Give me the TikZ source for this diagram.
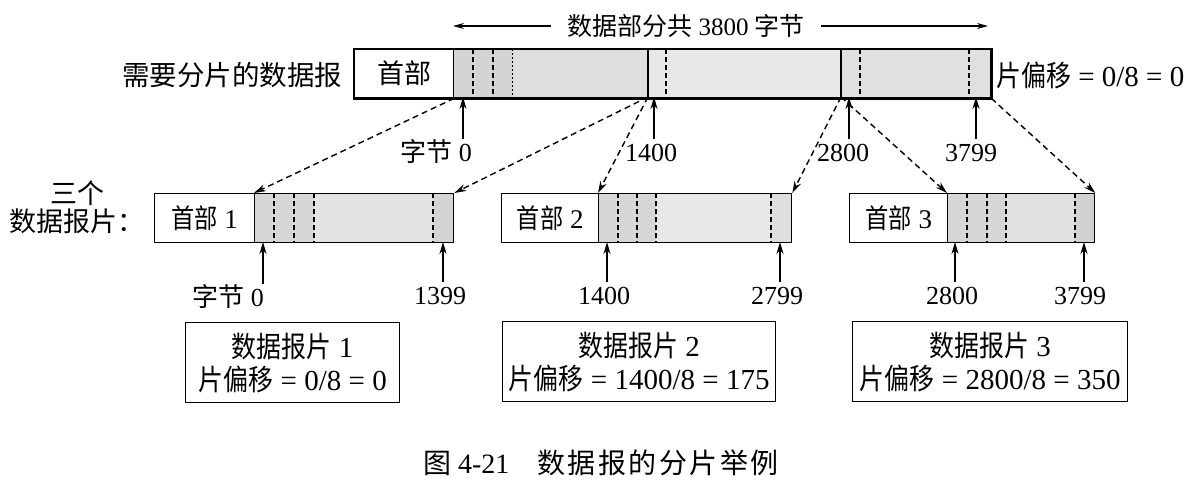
\documentclass[tikz,border=0pt]{standalone}
\usepackage{fontspec}
\setmainfont{Liberation Serif}
\newfontfamily\cjk{Noto Sans CJK SC}
\newfontfamily\cjkc{Noto Sans CJK SC}[FakeStretch=0.86]
\newfontfamily\cjks{Noto Sans CJK SC}[LetterSpace=9]
\usetikzlibrary{arrows.meta}
\begin{document}
\begin{tikzpicture}[x=1pt,y=-1pt,
  hb/.style={draw, line width=1.3pt, inner sep=0pt, anchor=north west},
  seg/.style={line width=1.1pt, dash pattern=on 5pt off 3pt},
  sseg/.style={line width=1.1pt},
  ptr/.style={-{Stealth[length=12pt,width=7pt]}, line width=1.6pt},
  tarrow/.style={-{Stealth[length=11pt,width=6pt]}, line width=1.2pt},
  mapar/.style={-{Stealth[length=12pt,width=7pt]}, line width=1.4pt, dash pattern=on 6pt off 4pt},
  lab/.style={inner sep=2pt, text height=20pt, text depth=6pt, font=\fontsize{26}{30}\selectfont},
  info/.style={draw, line width=1.4pt, align=center, anchor=north west, inner sep=0pt,
     minimum height=80pt, font=\fontsize{29}{33}\selectfont},
  hdr/.style={font=\fontsize{27}{30}\selectfont}
]
\useasboundingbox (0,0) rectangle (1190,480);
\fill[white] (0,0) rectangle (1190,480);

% ---------- top datagram ----------
\fill[black!17] (453,49) rectangle (512,97);
\fill[black!13] (512,49) rectangle (648,97);
\fill[black!9] (648,49) rectangle (841,97);
\fill[black!12] (841,49) rectangle (990,97);
\node[hb, minimum width=99pt, minimum height=48pt, hdr] (H) at (354,49) {\cjk 首部};
\node[hb, minimum width=537pt, minimum height=48pt] (D) at (453,49) {};
\draw[seg] (473,49) -- (473,97);
\draw[seg] (493,49) -- (493,97);
\draw[seg, line width=0.8pt, dash pattern=on 2pt off 2pt] (512,49) -- (512,97);
\draw[sseg] (648,49) -- (648,97);
\draw[seg] (666,49) -- (666,97);
\draw[sseg] (841,49) -- (841,97);
\draw[seg] (860,49) -- (860,97);
\draw[seg] (969,49) -- (969,97);
\draw[line width=2.6pt] (H.north west) rectangle (D.south east);

% title
\node[inner sep=0pt, font=\fontsize{25}{28}\selectfont] (title) at (686,26) {{\cjk 数据部分共} 3800 {\cjk 字节}};
\coordinate (tL) at (453,26);
\coordinate (tR) at (988,26);
\draw[tarrow] ([xshift=-16pt]title.west) -- (tL);
\draw[tarrow] ([xshift=16pt]title.east) -- (tR);

\node[font=\fontsize{27.5}{30}\selectfont] (need) at (232,75) {\cjk 需要分片的数据报};
\node[anchor=west, inner sep=0pt, font=\fontsize{29}{33}\selectfont] (off0) at (996,75) {{\cjkc 片偏移} = 0/8 = 0};

% top markers
\coordinate (p0) at (463,97);
\coordinate (p1400) at (654,97);
\coordinate (p2800) at (849,97);
\coordinate (p3799) at (976,97);
\coordinate (s1400) at (648,97);
\coordinate (s2800) at (841,97);
\node[lab] (b0) at (436,154) {{\cjk 字节} 0};
\node[lab] (b1400) at (651,154) {1400};
\node[lab] (b2800) at (843,154) {2800};
\node[lab] (b3799) at (971,154) {3799};
\draw[ptr] (p0 |- b0.north) -- (p0);
\draw[ptr] (p1400 |- b1400.north) -- (p1400);
\draw[ptr] (p2800 |- b2800.north) -- (p2800);
\draw[ptr] (p3799 |- b3799.north) -- (p3799);

% ---------- fragment 1 ----------
\fill[black!16] (254,193) rectangle (314,242);
\fill[black!11] (314,193) rectangle (433,242);
\fill[black!17] (433,193) rectangle (453,242);
\node[hb, minimum width=100pt, minimum height=49pt, hdr] (H1) at (154,193) {{\cjkc 首部} 1};
\node[hb, minimum width=199pt, minimum height=49pt] (D1) at (254,193) {};
\draw[seg] (274,193) -- (274,242);
\draw[seg] (294,193) -- (294,242);
\draw[seg] (314,193) -- (314,242);
\draw[seg] (433,193) -- (433,242);

% ---------- fragment 2 ----------
\fill[black!16] (598,193) rectangle (656,242);
\fill[black!9] (656,193) rectangle (771,242);
\fill[black!13] (771,193) rectangle (791,242);
\node[hb, minimum width=97pt, minimum height=49pt, hdr] (H2) at (501,193) {{\cjkc 首部} 2};
\node[hb, minimum width=193pt, minimum height=49pt] (D2) at (598,193) {};
\draw[seg] (618,193) -- (618,242);
\draw[seg] (637,193) -- (637,242);
\draw[seg] (656,193) -- (656,242);
\draw[seg] (771,193) -- (771,242);

% ---------- fragment 3 ----------
\fill[black!16] (947,193) rectangle (1006,242);
\fill[black!12] (1006,193) rectangle (1075,242);
\fill[black!18] (1075,193) rectangle (1094,242);
\node[hb, minimum width=98pt, minimum height=49pt, hdr] (H3) at (849,193) {{\cjkc 首部} 3};
\node[hb, minimum width=147pt, minimum height=49pt] (D3) at (947,193) {};
\draw[seg] (967,193) -- (967,242);
\draw[seg] (987,193) -- (987,242);
\draw[seg] (1006,193) -- (1006,242);
\draw[seg] (1075,193) -- (1075,242);

% mapping arrows
\draw[mapar] (H.south east) -- (D1.north west);
\draw[mapar] (s1400) -- (D1.north east);
\draw[mapar] (s1400) -- (D2.north west);
\draw[mapar] (s2800) -- (D2.north east);
\draw[mapar] (s2800) -- (D3.north west);
\draw[mapar] (D.south east) -- (D3.north east);

\node[font=\fontsize{27}{30}\selectfont, align=center] (three) at (77,207) {\cjk 三个\\[-2pt]\cjk 数据报片：};

% fragment markers
\coordinate (q1a) at (263,242);
\coordinate (q1b) at (443,242);
\coordinate (q2a) at (607,242);
\coordinate (q2b) at (780,242);
\coordinate (q3a) at (955,242);
\coordinate (q3b) at (1084,242);
\node[lab] (c1a) at (228,299) {{\cjk 字节} 0};
\node[lab] (c1b) at (440,297) {1399};
\node[lab] (c2a) at (604,297) {1400};
\node[lab] (c2b) at (777,297) {2799};
\node[lab] (c3a) at (952,297) {2800};
\node[lab] (c3b) at (1080,297) {3799};
\draw[ptr] (q1a |- c1a.north) -- (q1a);
\draw[ptr] (q1b |- c1b.north) -- (q1b);
\draw[ptr] (q2a |- c2a.north) -- (q2a);
\draw[ptr] (q2b |- c2b.north) -- (q2b);
\draw[ptr] (q3a |- c3a.north) -- (q3a);
\draw[ptr] (q3b |- c3b.north) -- (q3b);

% info boxes
\node[info, minimum width=214pt] (i1) at (185,322) {{\cjkc 数据报片} 1\\{\cjkc 片偏移} = 0/8 = 0};
\node[info, minimum width=273pt] (i2) at (502,321) {{\cjkc 数据报片} 2\\{\cjkc 片偏移} = 1400/8 = 175};
\node[info, minimum width=275pt] (i3) at (852,321) {{\cjkc 数据报片} 3\\{\cjkc 片偏移} = 2800/8 = 350};

% caption
\node[font=\fontsize{28}{30}\selectfont] (cap) at (601,463) {{\cjk 图} 4-21\hspace{28pt}{\cjks 数据报的分片举例}};
\end{tikzpicture}
\end{document}
